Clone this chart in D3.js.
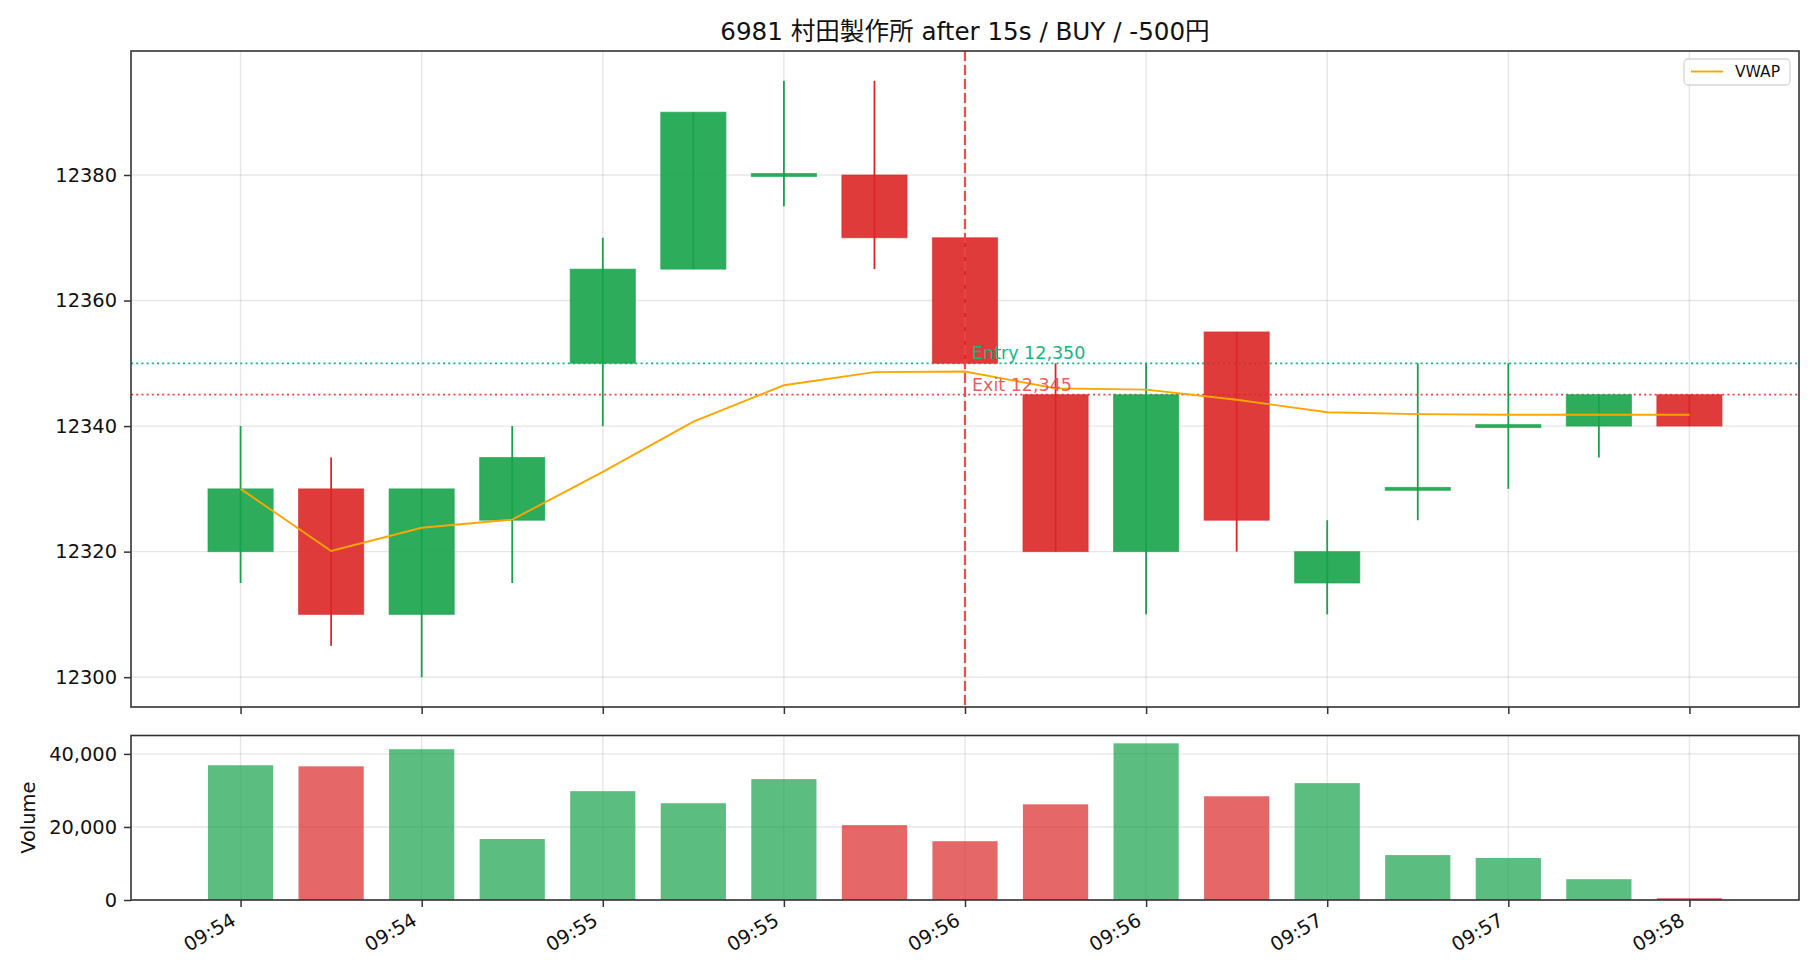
<!DOCTYPE html>
<html>
<head>
<meta charset="utf-8">
<script src="https://cdn.jsdelivr.net/npm/d3@7"></script>
<style>
  html, body { margin: 0; padding: 0; background: #fff; }
  svg { display: block; font-family: "DejaVu Sans", "Noto Sans CJK JP", sans-serif; }
</style>
</head>
<body>
<div id="chart"></div>
<script>
// 15秒足 (after 15s)
var times   = ['09:54:00','09:54:15','09:54:30','09:54:45','09:55:00','09:55:15','09:55:30','09:55:45',
               '09:56:00','09:56:15','09:56:30','09:56:45','09:57:00','09:57:15','09:57:30','09:57:45','09:58:00'];
var opens   = [12320, 12330, 12310, 12325, 12350, 12365, 12380, 12380, 12370, 12345, 12320, 12355, 12315, 12330, 12340, 12340, 12345];
var highs   = [12340, 12335, 12330, 12340, 12370, 12390, 12395, 12395, 12370, 12350, 12350, 12355, 12325, 12350, 12350, 12345, 12345];
var lows    = [12315, 12305, 12300, 12315, 12340, 12365, 12375, 12365, 12350, 12320, 12310, 12320, 12310, 12325, 12330, 12335, 12340];
var closes  = [12330, 12310, 12330, 12335, 12365, 12390, 12380, 12370, 12350, 12320, 12345, 12325, 12320, 12330, 12340, 12345, 12340];
var volumes = [36900, 36600, 41300, 16700, 29800, 26500, 33100, 20500, 16100, 26200, 42900, 28400, 32000, 12300, 11500, 5700, 500];
var vwap    = [12330, 12320.1, 12323.8, 12325.1, 12332.7, 12340.7, 12346.5, 12348.6, 12348.7, 12346.0, 12345.8, 12344.2,
               12342.2, 12341.9, 12341.8, 12341.8, 12341.8];

var priceTicks  = [12300, 12320, 12340, 12360, 12380];
var volumeTicks = [0, 20000, 40000];

var title      = '6981 村田製作所 after 15s / BUY / -500円';
var entryTime  = '09:56:00';
var entryPrice = 12350;
var exitPrice  = 12345;

(function() {
    'use strict';

    var W = 1820, H = 980;
    var left = 131, right = 1799;
    var main = { top: 51, bottom: 707 };
    var vol  = { top: 735.5, bottom: 900 };

    var GREEN = '#16a34a', RED = '#dc2626';
    var ENTRY_C = '#10b981', EXIT_C = '#ef4444';

    var parse = d3.timeParse('%H:%M:%S');
    var data = times.map(function(t, i) {
        return { t: parse(t), o: opens[i], h: highs[i], l: lows[i], c: closes[i], v: volumes[i], w: vwap[i] };
    });

    var step = 15000; // 15s
    var pad = 1.21 * step;
    var x = d3.scaleTime()
        .domain([new Date(+data[0].t - pad), new Date(+data[data.length - 1].t + pad)])
        .range([left, right]);
    var bw = x(new Date(+data[0].t + step * 0.72)) - x(data[0].t);

    var y = d3.scaleLinear().domain([12295.25, 12399.75]).range([main.bottom, main.top]);
    var yv = d3.scaleLinear().domain([0, 45045]).range([vol.bottom, vol.top]);

    var xTicks = d3.timeSecond.every(30).range(data[0].t, new Date(+data[data.length - 1].t + 1));
    var fmtTime = d3.timeFormat('%H:%M');

    var svg = d3.select('#chart').append('svg')
        .attr('width', W).attr('height', H)
        .attr('viewBox', [0, 0, W, H].join(' '));

    // Title
    svg.append('text')
        .attr('x', (left + right) / 2).attr('y', 40)
        .attr('text-anchor', 'middle')
        .style('font-size', '24.6px')
        .attr('fill', '#111')
        .text(title);

    function grid(g, yScale, yTicks, top, bottom) {
        g.selectAll('line.gx').data(xTicks).join('line')
            .attr('x1', function(d) { return x(d); }).attr('x2', function(d) { return x(d); })
            .attr('y1', top).attr('y2', bottom)
            .attr('stroke', '#b0b0b0').attr('stroke-opacity', 0.3).attr('stroke-width', 1.4);
        g.selectAll('line.gy').data(yTicks).join('line')
            .attr('x1', left).attr('x2', right)
            .attr('y1', function(d) { return yScale(d); }).attr('y2', function(d) { return yScale(d); })
            .attr('stroke', '#b0b0b0').attr('stroke-opacity', 0.3).attr('stroke-width', 1.4);
    }

    // ---- Price panel ----
    var gMain = svg.append('g');
    grid(gMain.append('g'), y, priceTicks, main.top, main.bottom);

    var clip = svg.append('defs').append('clipPath').attr('id', 'clipMain');
    clip.append('rect').attr('x', left).attr('y', main.top).attr('width', right - left).attr('height', main.bottom - main.top);
    var plot = gMain.append('g').attr('clip-path', 'url(#clipMain)');

    // Entry / exit levels
    plot.append('line')
        .attr('x1', left).attr('x2', right)
        .attr('y1', y(entryPrice)).attr('y2', y(entryPrice))
        .attr('stroke', ENTRY_C).attr('stroke-width', 1.7).attr('stroke-dasharray', '2,3.2');
    plot.append('line')
        .attr('x1', left).attr('x2', right)
        .attr('y1', y(exitPrice)).attr('y2', y(exitPrice))
        .attr('stroke', EXIT_C).attr('stroke-width', 1.7).attr('stroke-dasharray', '2,3.2');

    var upColor = function(d) { return d.c >= d.o ? GREEN : RED; };

    // Wicks
    plot.selectAll('line.wick').data(data).join('line')
        .attr('class', 'wick')
        .attr('x1', function(d) { return x(d.t); }).attr('x2', function(d) { return x(d.t); })
        .attr('y1', function(d) { return y(d.h); }).attr('y2', function(d) { return y(d.l); })
        .attr('stroke', upColor).attr('stroke-width', 1.8);

    // Bodies
    plot.selectAll('rect.body').data(data).join('rect')
        .attr('class', 'body')
        .attr('x', function(d) { return x(d.t) - bw / 2; })
        .attr('width', bw)
        .attr('y', function(d) {
            var top = y(Math.max(d.o, d.c)), h = y(Math.min(d.o, d.c)) - top;
            return h < 3 ? top - 1.5 : top;
        })
        .attr('height', function(d) { return Math.max(3, y(Math.min(d.o, d.c)) - y(Math.max(d.o, d.c))); })
        .attr('fill', upColor).attr('fill-opacity', 0.9)
        .attr('stroke', upColor).attr('stroke-opacity', 0.6).attr('stroke-width', 1);

    // VWAP
    plot.append('path')
        .datum(data)
        .attr('fill', 'none')
        .attr('stroke', '#ffa500').attr('stroke-width', 1.9)
        .attr('d', d3.line().x(function(d) { return x(d.t); }).y(function(d) { return y(d.w); }));

    // Entry vertical line
    var ex = x(parse(entryTime));
    plot.append('line')
        .attr('x1', ex).attr('x2', ex).attr('y1', main.top).attr('y2', main.bottom)
        .attr('stroke', EXIT_C).attr('stroke-opacity', 0.95).attr('stroke-width', 2.2)
        .attr('stroke-dasharray', '10,4');

    gMain.append('text')
        .attr('x', ex + 7).attr('y', y(entryPrice) - 4)
        .style('font-size', '17.5px').attr('fill', ENTRY_C)
        .text('Entry ' + d3.format(',')(entryPrice));
    gMain.append('text')
        .attr('x', ex + 7).attr('y', y(exitPrice) - 4)
        .style('font-size', '17.5px').attr('fill', EXIT_C).attr('fill-opacity', 0.9)
        .text('Exit ' + d3.format(',')(exitPrice));

    // Axes
    var axY = gMain.append('g').attr('transform', 'translate(' + left + ',0)')
        .call(d3.axisLeft(y).tickValues(priceTicks).tickSize(7).tickPadding(7).tickFormat(d3.format('d')));
    var axXm = gMain.append('g').attr('transform', 'translate(0,' + main.bottom + ')')
        .call(d3.axisBottom(x).tickValues(xTicks).tickSize(7).tickFormat(''));

    gMain.append('rect')
        .attr('x', left).attr('y', main.top).attr('width', right - left).attr('height', main.bottom - main.top)
        .attr('fill', 'none').attr('stroke', '#333').attr('stroke-width', 1.6);

    // Legend
    var lg = gMain.append('g');
    lg.append('rect')
        .attr('x', 1684).attr('y', 59).attr('width', 106).attr('height', 26).attr('rx', 4)
        .attr('fill', '#fff').attr('fill-opacity', 0.8)
        .attr('stroke', '#d6d6d6').attr('stroke-width', 1.3);
    lg.append('line')
        .attr('x1', 1691).attr('x2', 1723).attr('y1', 71.5).attr('y2', 71.5)
        .attr('stroke', '#ffa500').attr('stroke-width', 1.9);
    lg.append('text')
        .attr('x', 1735).attr('y', 77)
        .style('font-size', '15.5px').attr('fill', '#111')
        .text('VWAP');

    // ---- Volume panel ----
    var gVol = svg.append('g');
    grid(gVol.append('g'), yv, volumeTicks, vol.top, vol.bottom);

    gVol.selectAll('rect.vbar').data(data).join('rect')
        .attr('class', 'vbar')
        .attr('x', function(d) { return x(d.t) - bw / 2; })
        .attr('width', bw)
        .attr('y', function(d) { return yv(d.v); })
        .attr('height', function(d) { return yv(0) - yv(d.v); })
        .attr('fill', upColor).attr('fill-opacity', 0.7);

    var axYv = gVol.append('g').attr('transform', 'translate(' + left + ',0)')
        .call(d3.axisLeft(yv).tickValues(volumeTicks).tickSize(7).tickPadding(7).tickFormat(d3.format(',')));
    var axXv = gVol.append('g').attr('transform', 'translate(0,' + vol.bottom + ')')
        .call(d3.axisBottom(x).tickValues(xTicks).tickSize(7).tickPadding(7).tickFormat(fmtTime));

    axXv.selectAll('.tick text')
        .attr('text-anchor', 'end')
        .attr('dy', null)
        .attr('y', 0)
        .attr('transform', 'translate(-4,24) rotate(-30)');

    gVol.append('rect')
        .attr('x', left).attr('y', vol.top).attr('width', right - left).attr('height', vol.bottom - vol.top)
        .attr('fill', 'none').attr('stroke', '#333').attr('stroke-width', 1.6);

    gVol.append('text')
        .attr('transform', 'translate(35,' + ((vol.top + vol.bottom) / 2) + ') rotate(-90)')
        .attr('text-anchor', 'middle')
        .style('font-size', '19.4px').attr('fill', '#111')
        .text('Volume');

    // Axis styling
    [axY, axXm, axYv, axXv].forEach(function(ax) {
        ax.select('.domain').remove();
        ax.selectAll('.tick line').attr('stroke', '#333').attr('stroke-width', 1.5);
        ax.selectAll('.tick text').style('font-size', '19.4px').attr('fill', '#111')
            .style('font-family', '"DejaVu Sans", sans-serif');
    });
})();
</script>
</body>
</html>
